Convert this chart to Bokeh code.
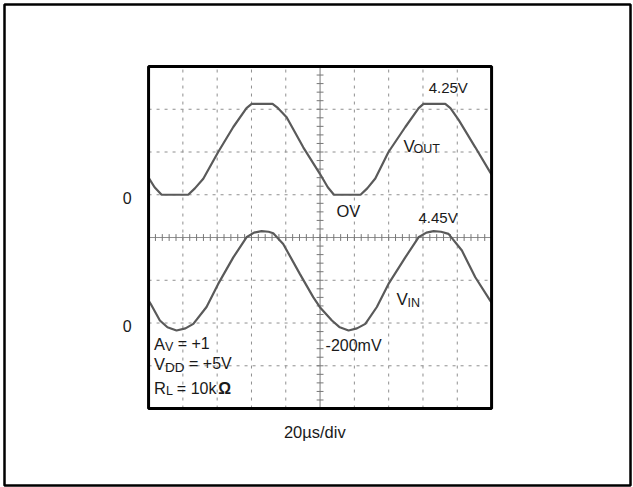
import numpy as np
from bokeh.plotting import figure
from bokeh.models import Range1d, Label
from bokeh.embed import file_html
from bokeh.resources import INLINE

# ---- data (time in microseconds, volts) ----
vout_t = [0, 3.5, 7.6, 23.1, 27.0, 31.9, 40.6, 49.4, 57.1, 60.1, 72.3, 75.5, 80.5, 90.2, 99.9,
          104.5, 108.1, 123.6, 127.5, 132.2, 139.9, 149.7, 157.5, 160.3, 173.0, 176.0, 180.8,
          190.5, 199.2, 200]
vout_v = [0.8, 0.35, 0.0, 0.0, 0.3, 0.75, 2.0, 3.17, 4.05, 4.25, 4.25, 4.05, 3.63, 2.22, 0.98,
          0.35, 0.0, 0.0, 0.3, 0.76, 2.0, 3.17, 4.05, 4.25, 4.25, 4.05, 3.5, 2.22, 1.05, 0.95]

vin_t = [0, 1.2, 6.6, 11.0, 16.3, 21.5, 26.1, 33.8, 40.6, 49.4, 57.1, 61.5, 65.9, 70.0, 72.7,
         78.5, 88.2, 96.0, 99.9, 106.9, 111.5, 116.6, 121.5, 126.4, 133.1, 139.9, 149.7, 157.4,
         162.0, 166.2, 170.5, 174.9, 182.7, 190.5, 199.2, 200]
vin_v = [1.2, 1.05, 0.27, -0.05, -0.2, -0.1, 0.11, 0.9, 1.98, 3.22, 4.16, 4.38, 4.45, 4.42, 4.35,
         3.85, 2.45, 1.36, 0.89, 0.27, -0.05, -0.2, -0.1, 0.11, 0.9, 1.98, 3.22, 4.16,
         4.38, 4.45, 4.42, 4.32, 3.54, 2.29, 1.2, 1.1]

time_grid = [20, 40, 60, 80, 120, 140, 160, 180]     # us, one line per division (20us/div)
div_grid = [-3, -2, -1, 1, 2, 3]                      # vertical divisions
T0, T1 = 0, 200                                       # screen time span (10 div)
D0, D1 = -4, 4                                        # screen divisions (8 div)
VOLTS_PER_DIV = 2.0
VOUT_GND_DIV = 1.0
VIN_GND_DIV = -2.075

# the plot frame is the outer figure border; the scope screen sits inside it
X0, X1 = -84.0, 281.0
Y0, Y1 = -5.80, 5.45

REG = "Liberation Sans, Arial, sans-serif"
INK = "#1a1a1a"
GRID = "#8f8f8f"

p = figure(width=633, height=487, output_backend="svg", toolbar_location=None,
           x_range=Range1d(X0, X1), y_range=Range1d(Y0, Y1),
           x_axis_location=None, y_axis_location=None,
           min_border_left=4, min_border_right=3, min_border_top=4, min_border_bottom=2)
p.xgrid.visible = False
p.ygrid.visible = False
p.outline_line_color = "black"
p.outline_line_width = 2.5
p.background_fill_color = "white"
p.border_fill_color = "white"

p.extra_y_ranges = {
    "vout": Range1d((Y0 - VOUT_GND_DIV) * VOLTS_PER_DIV, (Y1 - VOUT_GND_DIV) * VOLTS_PER_DIV),
    "vin": Range1d((Y0 - VIN_GND_DIV) * VOLTS_PER_DIV, (Y1 - VIN_GND_DIV) * VOLTS_PER_DIV),
}

# dotted graticule
p.segment(x0=time_grid, x1=time_grid, y0=D0, y1=D1, line_color=GRID, line_dash="3 5", line_width=1)
p.segment(x0=T0, x1=T1, y0=div_grid, y1=div_grid, line_color=GRID, line_dash="3 5", line_width=1)

# centre cross with minor ticks
p.segment(x0=[T0, 100], x1=[T1, 100], y0=[0, D0], y1=[0, D1], line_color=GRID, line_width=1.2)
hx = np.arange(T0 + 4, T1, 4.0)
p.segment(x0=hx, x1=hx, y0=-0.08, y1=0.08, line_color="#777777", line_width=1)
vy = np.arange(D0 + 0.2, D1 - 0.1, 0.2)
p.segment(x0=98.0, x1=102.0, y0=vy, y1=vy, line_color="#777777", line_width=1)

# traces
p.line(vout_t, vout_v, y_range_name="vout", line_color="#5a5a5a", line_width=2.2)
p.line(vin_t, vin_v, y_range_name="vin", line_color="#5a5a5a", line_width=2.2)

# scope screen border
p.quad(left=T0, right=T1, bottom=D0, top=D1, fill_color=None, line_color="black", line_width=3)


def lab(text, x, y, size, style="normal"):
    p.add_layout(Label(x=x, y=y + 0.14, text=text, text_font=REG, text_font_size=f"{size}px",
                       text_font_style=style, text_color=INK, text_align="left",
                       text_baseline="alphabetic"))


lab("4.25V", 163.3, 3.37, 15)
lab("V", 148.7, 1.99, 17)
lab("OUT", 154.5, 1.92, 12.5)
lab("OV", 109.6, 0.49, 16.5)
lab("4.45V", 157.4, 0.32, 15)
lab("V", 144.6, -1.59, 17)
lab("IN", 151.0, -1.66, 12.5)
lab("-200mV", 103.2, -2.66, 16)

lab("A", 3.1, -2.63, 16.5)
lab("V", 9.6, -2.71, 12.5)
lab("= +1", 17.0, -2.63, 16)
lab("V", 3.1, -3.09, 16.5)
lab("DD", 9.6, -3.17, 13.5)
lab("= +5V", 23.6, -3.09, 16)
lab("R", 3.1, -3.66, 16.5)
lab("L", 10.2, -3.74, 12.5)
lab("= 10k", 16.5, -3.66, 16)
lab("Ω", 40.6, -3.66, 16, style="bold")

lab("0", -15.0, 0.79, 16)
lab("0", -15.0, -2.215, 16)
lab("20µs/div", 78.9, -4.68, 16.5)

open("out.html", "w").write(file_html(p, INLINE))
